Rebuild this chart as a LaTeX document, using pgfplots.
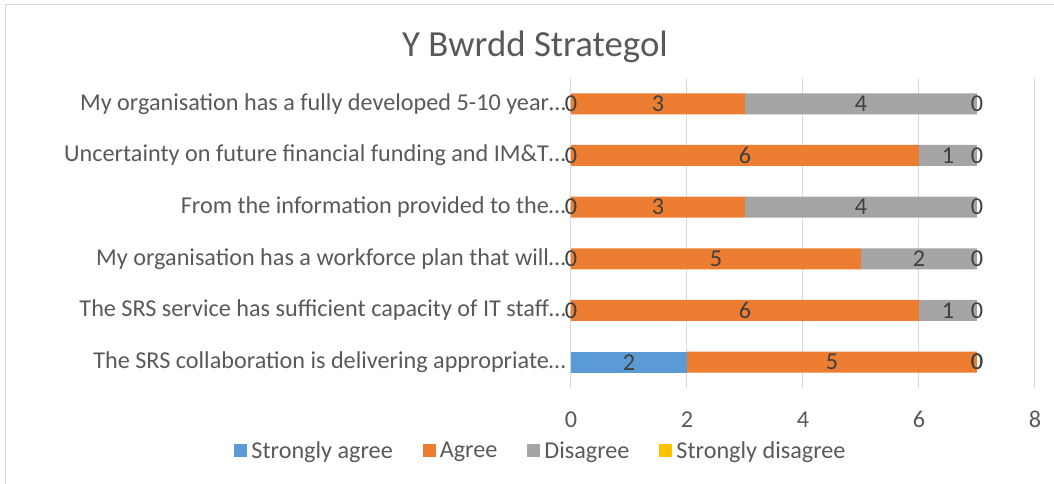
\documentclass[border=0pt]{standalone}
\usepackage{fontspec}
\setmainfont{Carlito}
\usepackage{pgfplots}
\pgfplotsset{compat=1.18}

\definecolor{sagree}{HTML}{5B9BD5}
\definecolor{agree}{HTML}{ED7D31}
\definecolor{disagree}{HTML}{A5A5A5}
\definecolor{sdisagree}{HTML}{FFC000}
\definecolor{txt}{HTML}{595959}
\definecolor{lbl}{HTML}{404040}
\definecolor{gridc}{HTML}{D9D9D9}

\newcommand{\lblfont}{\fontsize{24.2}{29}\selectfont}

\pgfplotsset{
    samebox/.style={scale only axis, width=464pt, height=310pt,
        xmin=0, xmax=8, ymin=-0.5, ymax=5.5},
}

\begin{document}
\begin{tikzpicture}
% 1px of the reference = 1pt here; plot area corner sits at (0,0)
\useasboundingbox (-571pt,-96pt) rectangle (483pt,388pt);
\draw[gridc, line width=1pt] (-565pt,-140pt) -- (-565pt,383pt) -- (520pt,383pt);
\begin{axis}[
    samebox,
    xbar stacked,
    bar width=21pt,
    xtick={0,2,4,6,8},
    ytick={0,1,2,3,4,5},
    yticklabels={
        The SRS collaboration is delivering appropriate…,
        The SRS service has sufficient capacity of IT staff…,
        My organisation has a workforce plan that will…,
        From the information provided to the…,
        Uncertainty on future financial funding and IM\&T…,
        My organisation has a fully developed 5-10 year…},
    xmajorgrids, grid style={gridc, line width=1pt},
    axis line style={draw=none},
    major tick length=0pt,
    /pgf/number format/assume math mode=true,
    tick label style={text=txt, font=\lblfont},
    xticklabel style={anchor=base, yshift=-40pt, inner sep=0pt},
    yticklabel style={anchor=east, xshift=-5pt, inner sep=0pt},
    legend columns=4,
    legend cell align=left,
    legend style={at={(-0.0657,-0.203)}, anchor=center, draw=none, fill=none,
        font=\lblfont, text=txt, nodes={inner sep=1pt},
        /tikz/every odd column/.append style={column sep=3pt},
        /tikz/every even column/.append style={column sep=29pt}},
    legend image code/.code={\fill[#1] (0pt,-6.5pt) rectangle (13pt,6.5pt);},
]
% rows from bottom (0) to top (5)
\addplot[fill=sagree, draw=none] coordinates {(2,0) (0,1) (0,2) (0,3) (0,4) (0,5)};
\addplot[fill=agree, draw=none] coordinates {(5,0) (6,1) (5,2) (3,3) (6,4) (3,5)};
\addplot[fill=disagree, draw=none] coordinates {(0,0) (1,1) (2,2) (4,3) (1,4) (4,5)};
\addplot[fill=sdisagree, draw=none] coordinates {(0,0) (0,1) (0,2) (0,3) (0,4) (0,5)};
\legend{Strongly agree, Agree, Disagree, Strongly disagree}
\end{axis}
% data labels, centred in each segment (same box, not stacked)
\begin{axis}[
    samebox, hide axis,
    nodes near coords, point meta=explicit symbolic,
    every node near coord/.style={text=lbl, font=\lblfont, anchor=center, inner sep=0pt},
]
\addplot[only marks, mark=none] coordinates {(1,0) [2] (0,1) [0] (0,2) [0] (0,3) [0] (0,4) [0] (0,5) [0]};
\addplot[only marks, mark=none] coordinates {(4.5,0) [5] (3,1) [6] (2.5,2) [5] (1.5,3) [3] (3,4) [6] (1.5,5) [3]};
\addplot[only marks, mark=none] coordinates {(7,0) [0] (6.5,1) [1] (6,2) [2] (5,3) [4] (6.5,4) [1] (5,5) [4]};
\addplot[only marks, mark=none] coordinates {(7,0) [0] (7,1) [0] (7,2) [0] (7,3) [0] (7,4) [0] (7,5) [0]};
\end{axis}
\node[text=txt, font=\fontsize{36.8}{44}\selectfont, inner sep=0pt] at (-36pt,341pt) {Y Bwrdd Strategol};
\end{tikzpicture}
\end{document}
